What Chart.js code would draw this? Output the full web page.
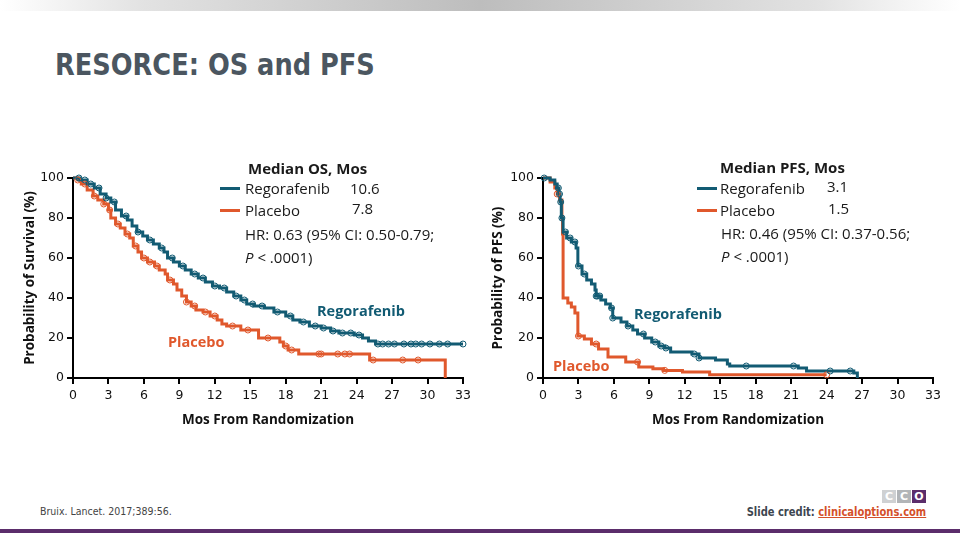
<!DOCTYPE html>
<html>
<head>
<meta charset="utf-8">
<script src="https://cdn.jsdelivr.net/npm/chart.js@4.4.0/dist/chart.umd.min.js"></script>
<style>
  body { margin: 0; background: #fff; }
  #page { position: relative; width: 960px; height: 540px; overflow: hidden; background: #fff; font-family: "Open Sans", sans-serif; }
  .topbar { position: absolute; left: 0; top: 0; width: 960px; height: 11px;
    background: linear-gradient(to right, #fff 0%, #e2e2e2 15%, #bdbdbd 50%, #e2e2e2 85%, #fff 100%); }
  .title { position: absolute; left: 55px; top: 46px; font-family: "Liberation Sans Narrow", "DejaVu Sans Condensed", sans-serif;
    font-weight: bold; font-size: 31px; color: #4b5660; white-space: nowrap; transform: scaleX(0.92); transform-origin: left top; }
  .cv { position: absolute; top: 150px; width: 480px; height: 290px; }
  .t { position: absolute; white-space: nowrap; line-height: 18px; font-size: 15px; color: #1a1a1a; }
  .b { font-weight: bold; }
  .sw { position: absolute; width: 20px; height: 3px; }
  .lab { position: absolute; white-space: nowrap; line-height: 18px; font-size: 14.5px; font-weight: bold; }
  .footline { position: absolute; left: 0; top: 529px; width: 960px; height: 4px; background: #5b2d6b; }
  .cite { position: absolute; left: 40px; top: 505px; font-family: "DejaVu Sans Condensed", "DejaVu Sans", sans-serif; font-size: 10.5px; color: #444; white-space: nowrap; }
  .credit { position: absolute; right: 34px; top: 504px; font-family: "Liberation Sans Narrow", "DejaVu Sans Condensed", sans-serif; font-size: 13px; font-weight: bold; color: #3d4650; white-space: nowrap; transform: scaleX(0.85); transform-origin: right top; }
  .credit span { color: #d4502a; text-decoration: underline; }
  .logo { position: absolute; top: 490px; width: 14px; height: 13px; color: #fff; font-size: 11px; font-weight: bold; line-height: 13px; text-align: center; font-family: "DejaVu Sans", sans-serif; }
</style>
</head>
<body>
<div id="page">
  <div class="topbar"></div>
  <div class="title">RESORCE: OS and PFS</div>

  <div class="cv" style="left:0px"><canvas id="osChart"></canvas></div>
  <div class="cv" style="left:480px"><canvas id="pfsChart"></canvas></div>

  <!-- OS legend -->
  <div class="t b" style="left:248px; top:159px">Median OS, Mos</div>
  <div class="sw" style="left:220px; top:187px; background:#125b73"></div>
  <div class="t" style="left:245px; top:179px">Regorafenib</div>
  <div class="t" style="left:350px; top:179px">10.6</div>
  <div class="sw" style="left:220px; top:209px; background:#e0582c"></div>
  <div class="t" style="left:245px; top:201px">Placebo</div>
  <div class="t" style="left:352px; top:199px">7.8</div>
  <div class="t" style="left:245px; top:225px">HR: 0.63 (95% CI: 0.50-0.79;</div>
  <div class="t" style="left:245px; top:248px"><i>P</i> &lt; .0001)</div>
  <div class="lab" style="left:317px; top:302px; color:#125b73">Regorafenib</div>
  <div class="lab" style="left:168px; top:333px; color:#e0582c">Placebo</div>

  <!-- PFS legend -->
  <div class="t b" style="left:720px; top:158px">Median PFS, Mos</div>
  <div class="sw" style="left:697px; top:187px; background:#125b73"></div>
  <div class="t" style="left:720px; top:179px">Regorafenib</div>
  <div class="t" style="left:827px; top:177px">3.1</div>
  <div class="sw" style="left:697px; top:209px; background:#e0582c"></div>
  <div class="t" style="left:720px; top:201px">Placebo</div>
  <div class="t" style="left:828px; top:199px">1.5</div>
  <div class="t" style="left:721px; top:224px">HR: 0.46 (95% CI: 0.37-0.56;</div>
  <div class="t" style="left:721px; top:247px"><i>P</i> &lt; .0001)</div>
  <div class="lab" style="left:634px; top:305px; color:#125b73">Regorafenib</div>
  <div class="lab" style="left:553px; top:357px; color:#e0582c">Placebo</div>

  <div class="cite">Bruix. Lancet. 2017;389:56.</div>
  <div class="logo" style="left:882px; background:#cfd1d3">C</div>
  <div class="logo" style="left:897px; background:#b2b5b8">C</div>
  <div class="logo" style="left:912px; background:#5b2d6b">O</div>
  <div class="credit">Slide credit: <span>clinicaloptions.com</span></div>
  <div class="footline"></div>
</div>

<script>
const TEAL = "#125b73";
const ORANGE = "#e0582c";

const xTicks = [0, 3, 6, 9, 12, 15, 18, 21, 24, 27, 30, 33];
const yTicks = [0, 20, 40, 60, 80, 100];

// OS, regorafenib: months / % surviving
const osRegoT = [0, 0.6, 1.2, 1.8, 2.3, 2.8, 3.2, 3.6, 4.1, 4.6, 5.0, 5.4, 5.9, 6.3, 6.8, 7.3, 7.7, 8.0, 8.5, 9.0,
  9.5, 10.0, 10.6, 11.2, 11.8, 12.4, 13.0, 13.6, 14.2, 14.7, 15.3, 16.2, 17.0, 18.0, 18.6, 19.2, 20.0, 21.0,
  21.8, 22.5, 23.8, 24.5, 25.0, 25.6, 33.0];
const osRegoS = [100, 99, 97, 95, 92, 90, 88, 84, 81, 79, 76, 73, 71, 69, 67, 65, 63, 60, 58, 56,
  54, 52, 50, 48, 46, 45, 43, 41, 39, 37, 36, 35, 33, 31, 29, 28, 26, 25,
  23.5, 22.5, 21.5, 20, 18.5, 17, 17];
const osRegoCens = [0.5, 1.0, 1.5, 2.2, 2.8, 3.5, 4.5, 5.5, 6.5, 7.5, 8.4, 9.3, 10.3, 11.0, 12.0, 12.8, 13.8,
  14.5, 15.2, 16.0, 17.3, 18.4, 19.5, 20.5, 21.2, 22.0, 22.8, 23.5, 24.2, 25.8, 26.2, 26.7, 27.2, 28.0,
  28.6, 29.0, 29.5, 30.2, 31.0, 31.7, 33.0];

// OS, placebo
const osPlacT = [0, 0.4, 0.7, 1.2, 1.7, 2.1, 2.6, 3.0, 3.2, 3.6, 4.0, 4.4, 4.8, 5.1, 5.5, 5.8, 6.3, 6.9, 7.3,
  7.8, 8.0, 8.5, 8.8, 9.2, 9.6, 10.0, 10.4, 11.0, 11.6, 12.2, 12.6, 13.0, 14.2, 15.7, 17.5, 17.8, 18.2,
  19.1, 25.1, 31.5];
const osPlacS = [100, 99, 97, 94, 91, 89, 87, 84, 80, 77, 75, 72, 70, 66, 63, 60, 58, 56, 54,
  52, 49, 47, 44, 41, 38, 36, 34, 33, 31, 29, 27, 26, 24, 20, 18, 16, 14,
  12, 9, 0];
const osPlacCens = [0.4, 1.0, 1.8, 2.6, 3.1, 3.8, 4.6, 5.3, 6.0, 6.5, 7.1, 8.2, 9.6, 10.3, 11.2, 12.0, 13.5,
  14.8, 16.5, 18.0, 18.5, 20.8, 21.0, 22.4, 23.0, 23.4, 25.4, 27.9, 29.2];

// PFS, regorafenib
const pfsRegoT = [0, 0.6, 1.0, 1.2, 1.35, 1.45, 1.55, 1.7, 2.0, 2.4, 2.8, 2.95, 3.3, 3.7, 4.1, 4.4, 4.5, 4.9,
  5.3, 5.7, 5.9, 6.6, 7.1, 7.6, 8.0, 8.6, 9.2, 9.8, 10.3, 10.8, 12.6, 13.2, 14.6, 15.6, 15.8, 21.6,
  22.3, 26.3, 26.6];
const pfsRegoS = [100, 99, 97, 95, 92, 88, 80, 73, 70, 68, 65, 56, 52, 49, 47, 44, 41, 39,
  37, 35, 30, 28, 26, 24, 22, 20, 18, 16, 15, 13, 12, 10, 9, 7, 6, 5,
  3.5, 2.5, 0];
const pfsRegoCens = [0.1, 1.3, 1.4, 1.5, 1.6, 1.9, 2.3, 2.7, 3.0, 3.5, 4.5, 4.6, 4.8, 5.8, 5.9, 7.2, 8.5,
  9.5, 10.0, 10.4, 12.8, 13.2, 17.2, 21.2, 24.3, 26.0];

// PFS, placebo
const pfsPlacT = [0, 0.6, 1.0, 1.2, 1.4, 1.6, 1.65, 1.7, 2.1, 2.4, 2.7, 2.95, 3.5, 4.1, 4.7, 5.5, 7.0, 8.1,
  9.3, 10.2, 11.8, 14.1, 24.0];
const pfsPlacS = [100, 98, 95, 92, 89, 80, 72, 40, 37.5, 35.5, 32.5, 21, 19.5, 17, 14.5, 10.5, 8, 5.5,
  4.6, 3.8, 3, 1.6, 1.6];
const pfsPlacCens = [1.2, 3.0, 4.5, 8.0, 10.3, 24.0];

function toPoints(ts, ss) {
  return ts.map((t, i) => ({ x: t, y: ss[i] }));
}

// survival value of a step curve at time t
function survAt(ts, ss, t) {
  let v = ss[0];
  for (let i = 0; i < ts.length; i++) {
    if (ts[i] <= t) v = ss[i];
  }
  return v;
}

function censPoints(ts, ss, cens) {
  return cens.map(t => ({ x: t, y: survAt(ts, ss, t) }));
}

function makeChart(id, curves, yTitle, pad, yWidth) {
  const datasets = [];
  curves.forEach(c => {
    datasets.push({
      type: "line",
      data: toPoints(c.t, c.s),
      borderColor: c.color,
      borderWidth: 3,
      pointRadius: 0,
      stepped: true,
      fill: false,
      clip: false,
      order: 2
    });
    datasets.push({
      type: "scatter",
      data: censPoints(c.t, c.s, c.cens),
      borderColor: c.color,
      backgroundColor: "rgba(255,255,255,0)",
      borderWidth: 1,
      pointRadius: 3,
      pointStyle: "circle",
      clip: false,
      order: 1
    });
  });

  return new Chart(document.getElementById(id).getContext("2d"), {
    type: "line",
    data: { datasets },
    options: {
      responsive: true,
      maintainAspectRatio: false,
      animation: false,
      layout: { padding: pad },
      plugins: { legend: { display: false }, tooltip: { enabled: false } },
      scales: {
        x: {
          type: "linear",
          min: 0, max: 33,
          afterBuildTicks: s => { s.ticks = xTicks.map(v => ({ value: v })); },
          afterFit: s => { s.height = 52; },
          border: { display: true, color: "#000", width: 2 },
          grid: { drawOnChartArea: false, drawTicks: true, tickLength: 6, color: "#000", lineWidth: 2 },
          ticks: { color: "#111", padding: 4, maxRotation: 0, autoSkip: false, font: { family: "DejaVu Sans", size: 12.5 } },
          title: { display: true, text: "Mos From Randomization", color: "#111", padding: { top: 4, bottom: 2 },
            font: { family: "Open Sans", size: 13.5, weight: "bold" } }
        },
        y: {
          type: "linear",
          min: 0, max: 100,
          afterBuildTicks: s => { s.ticks = yTicks.map(v => ({ value: v })); },
          afterFit: s => { s.width = yWidth; },
          border: { display: true, color: "#000", width: 2 },
          grid: { drawOnChartArea: false, drawTicks: true, tickLength: 6, color: "#000", lineWidth: 2 },
          ticks: { color: "#111", padding: 3, font: { family: "DejaVu Sans", size: 12.5 } },
          title: { display: true, text: yTitle, color: "#111", padding: { top: 4, bottom: 4 },
            font: { family: "Open Sans", size: 13.5, weight: "bold" } }
        }
      }
    }
  });
}

makeChart("osChart", [
  { t: osRegoT, s: osRegoS, cens: osRegoCens, color: TEAL },
  { t: osPlacT, s: osPlacS, cens: osPlacCens, color: ORANGE }
], "Probability of Survival (%)", { left: 18, right: 17, top: 28, bottom: 10 }, 55);

makeChart("pfsChart", [
  { t: pfsRegoT, s: pfsRegoS, cens: pfsRegoCens, color: TEAL },
  { t: pfsPlacT, s: pfsPlacS, cens: pfsPlacCens, color: ORANGE }
], "Probability of PFS (%)", { left: 6, right: 27, top: 28, bottom: 10 }, 57);
</script>
</body>
</html>
